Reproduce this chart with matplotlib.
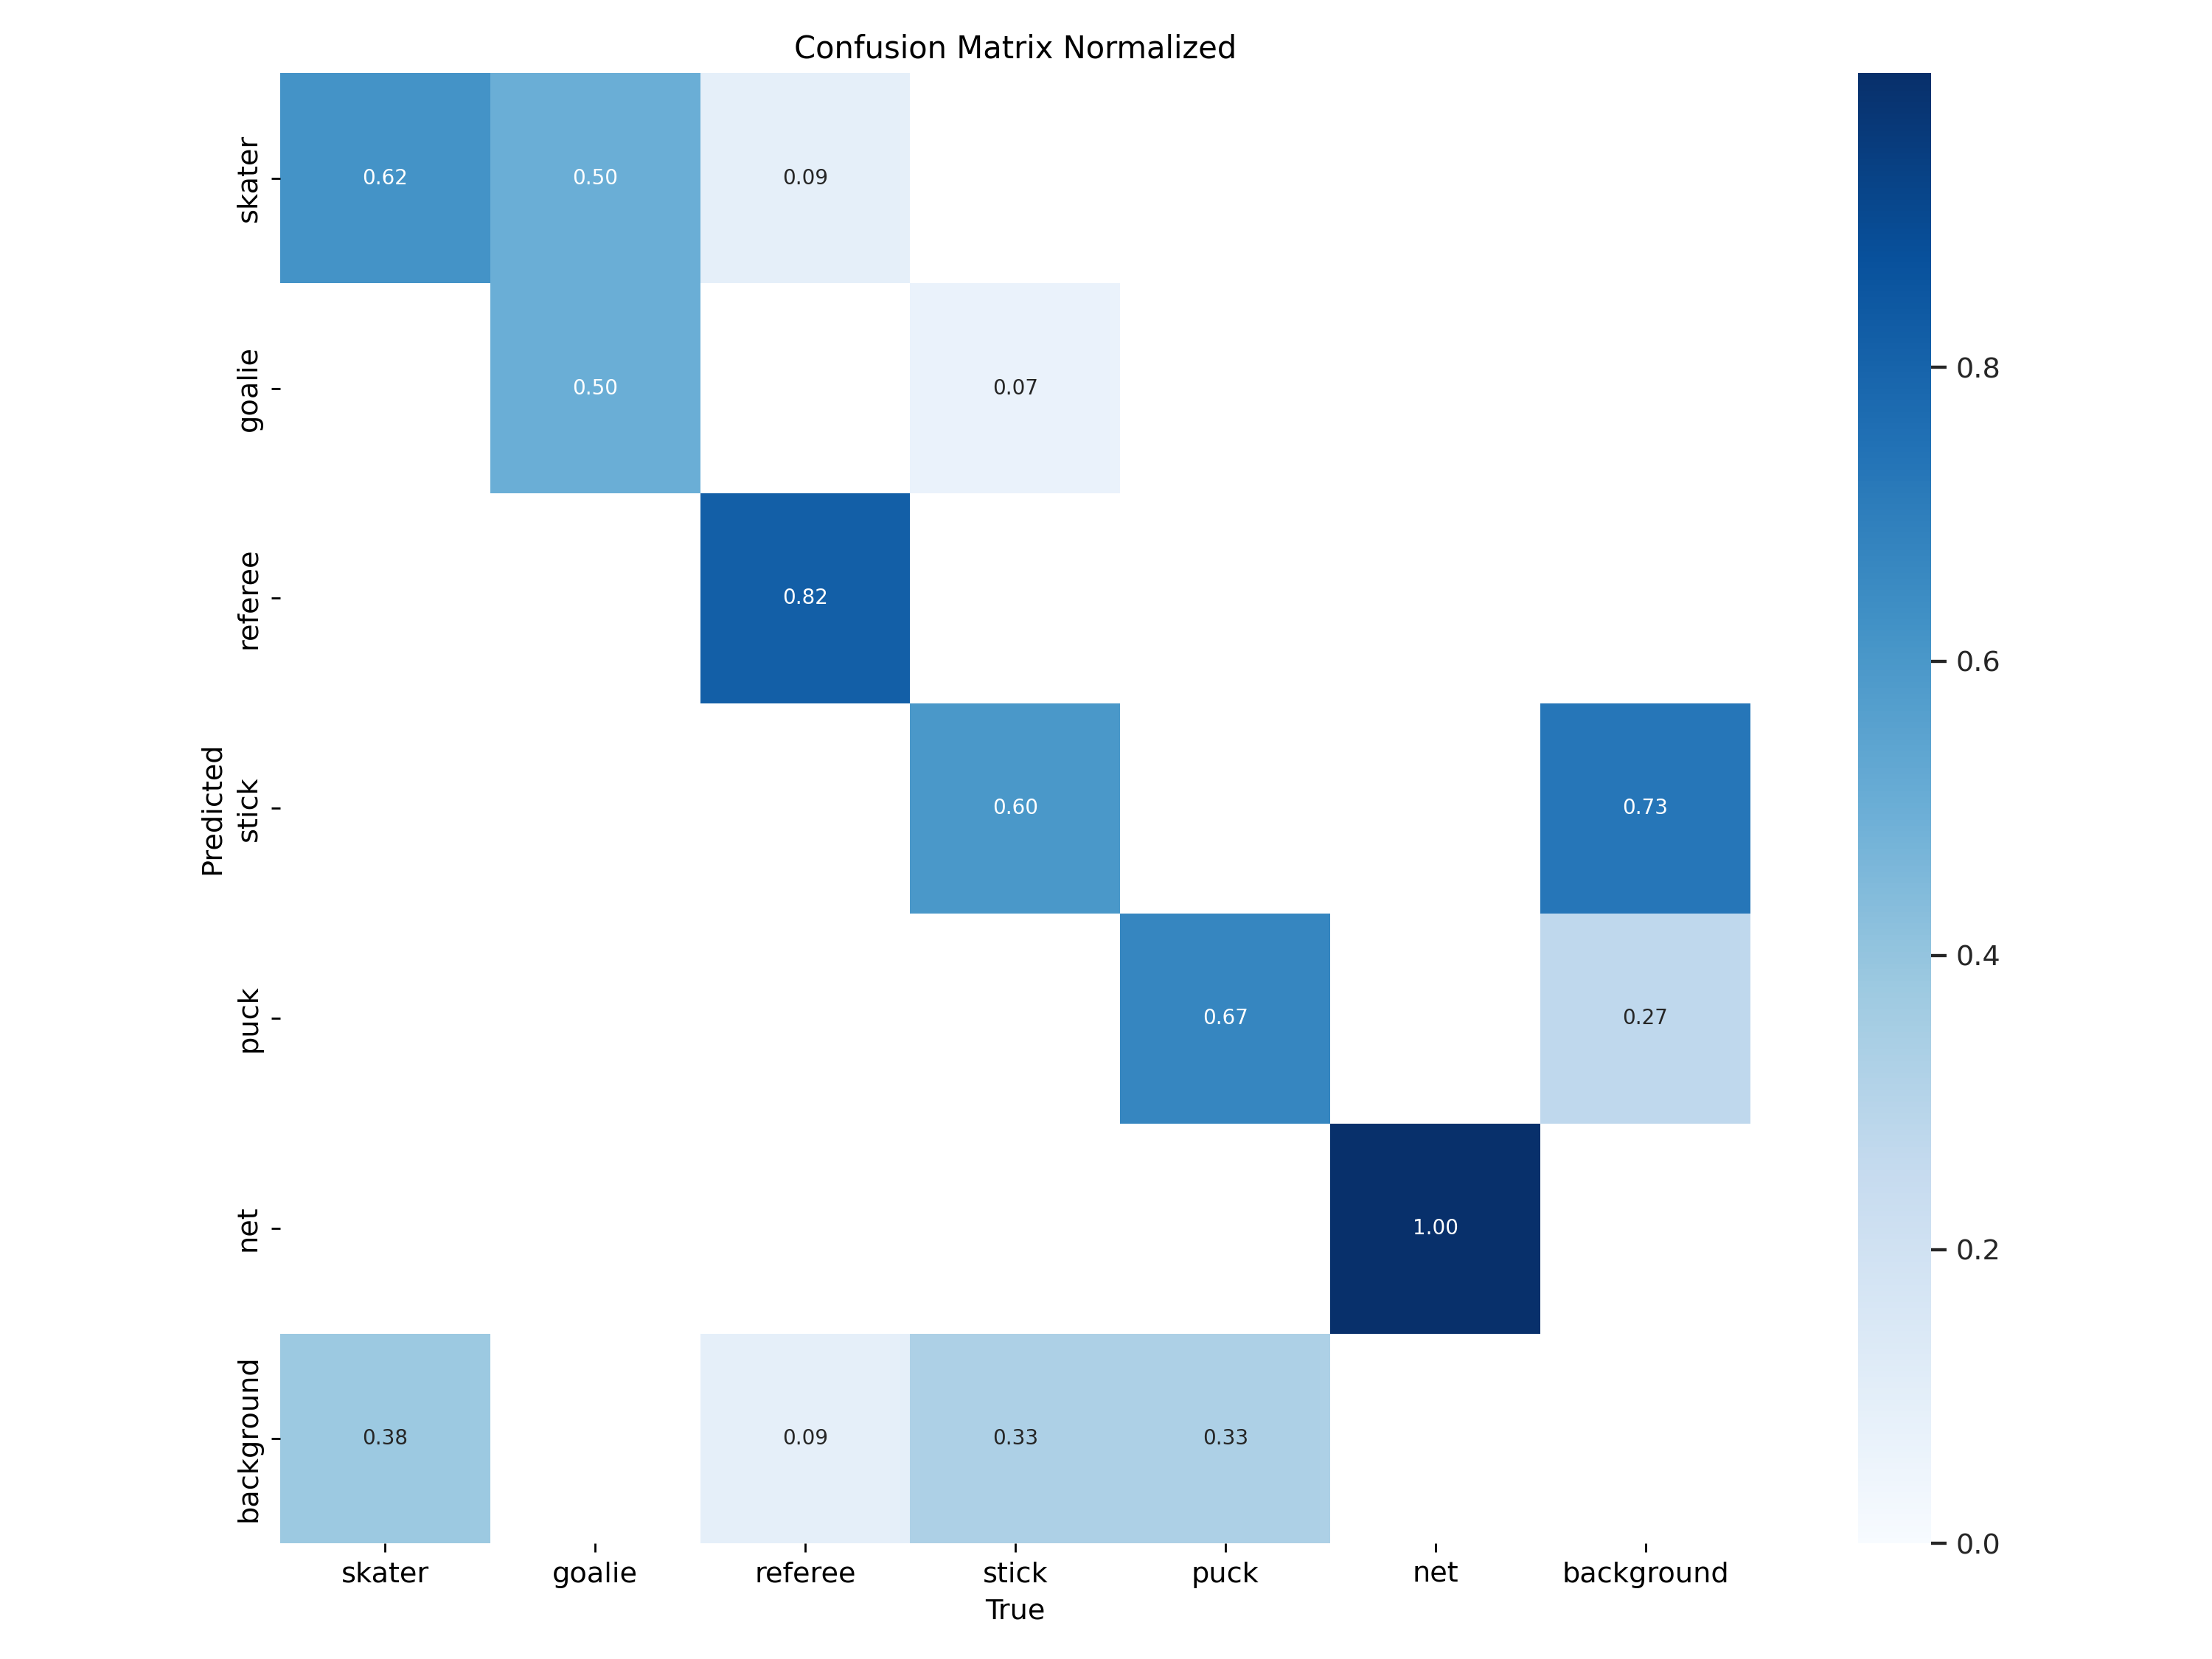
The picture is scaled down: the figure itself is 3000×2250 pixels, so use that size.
import numpy as np
import matplotlib
matplotlib.use('Agg')
import matplotlib.pyplot as plt
import seaborn as sn

# class names (predicted rows / true columns)
names = ['skater', 'goalie', 'referee', 'stick', 'puck', 'net', 'background']

# normalized confusion matrix, rows = Predicted, cols = True
row_skater = [0.62, 0.50, 0.09, 0.00, 0.00, 0.00, 0.00]
row_goalie = [0.00, 0.50, 0.00, 0.07, 0.00, 0.00, 0.00]
row_referee = [0.00, 0.00, 0.82, 0.00, 0.00, 0.00, 0.00]
row_stick = [0.00, 0.00, 0.00, 0.60, 0.00, 0.00, 0.73]
row_puck = [0.00, 0.00, 0.00, 0.00, 0.67, 0.00, 0.27]
row_net = [0.00, 0.00, 0.00, 0.00, 0.00, 1.00, 0.00]
row_background = [0.38, 0.00, 0.09, 0.33, 0.33, 0.00, 0.00]

cbar_ticks = [0.0, 0.2, 0.4, 0.6, 0.8]

array = np.array([row_skater, row_goalie, row_referee, row_stick,
                  row_puck, row_net, row_background])
array[array < 0.005] = np.nan  # don't annotate (would appear as 0.00)

fig, ax = plt.subplots(1, 1, figsize=(12, 9))
sn.heatmap(array, ax=ax, annot=True, annot_kws={"size": 8}, cmap='Blues',
           fmt='.2f', square=True, vmin=0.0,
           cbar_kws={'ticks': cbar_ticks},
           xticklabels=names, yticklabels=names).set_facecolor((1, 1, 1))
ax.tick_params(labelsize=11)
ax.set_xlabel('True', fontsize=11)
ax.set_ylabel('Predicted', fontsize=11)
ax.set_title('Confusion Matrix Normalized', fontsize=12)

# colorbar ticks a bit heavier, dark grey labels
cax = ax.collections[0].colorbar.ax
cax.tick_params(labelsize=11, length=6, width=1.25, color='#262626', labelcolor='#262626')

fig.tight_layout(pad=1.25)
fig.savefig('out.png', dpi=250)
